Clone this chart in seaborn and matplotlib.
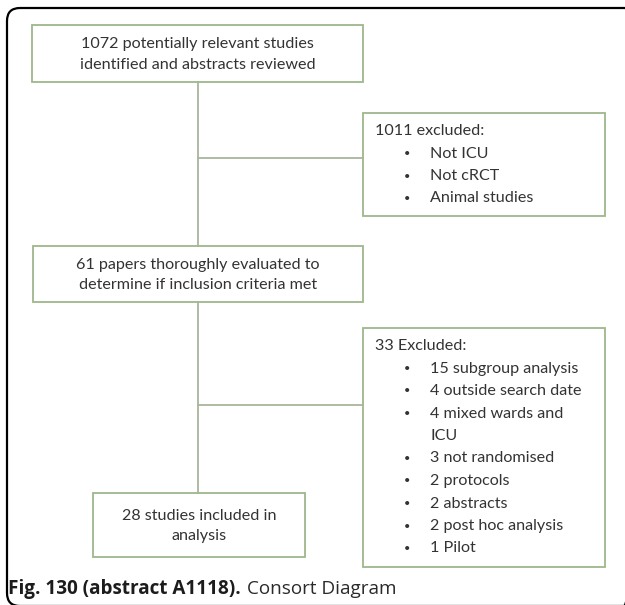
import matplotlib
matplotlib.use("Agg")
import matplotlib.pyplot as plt
import seaborn as sns
from matplotlib.patches import Rectangle, FancyBboxPatch

sns.set_style("white")
plt.rcParams['font.family'] = ['Lato', 'DejaVu Sans']

# flow diagram content
main_boxes = [
    "1072 potentially relevant studies\nidentified and abstracts reviewed",
    "61 papers thoroughly evaluated to\ndetermine if inclusion criteria met",
    "28 studies included in\nanalysis",
]
excl_titles = ["1011 excluded:", "33 Excluded:"]
excl_items = [
    ["Not ICU", "Not cRCT", "Animal studies"],
    ["15 subgroup analysis", "4 outside search date", "4 mixed wards and\nICU",
     "3 not randomised", "2 protocols", "2 abstracts", "2 post hoc analysis", "1 Pilot"],
]
caption_bold = "Fig. 130 (abstract A1118)."
caption_rest = "Consort Diagram"

edge = "#9db68a"
txt = "#333333"
fs = 11.6

fig = plt.figure(figsize=(6.25, 6.05), dpi=100)
ax = fig.add_axes([0, 0, 1, 1])
ax.set_xlim(0, 625)
ax.set_ylim(605, 0)
ax.axis("off")

# outer frame
ax.add_patch(FancyBboxPatch((7, 8), 630, 598, boxstyle="round,pad=0,rounding_size=13",
                            fill=False, ec="black", lw=1.6, clip_on=True))

# main column boxes (left, top, right, bottom)
main_geo = [(32, 25, 363, 82), (33, 246, 363, 302), (93, 493, 305, 557)]
for (x0, y0, x1, y1), label in zip(main_geo, main_boxes):
    ax.add_patch(Rectangle((x0, y0), x1 - x0, y1 - y0, fill=False, ec=edge, lw=1.3))
    ax.text((x0 + x1) / 2, (y0 + y1) / 2 + 1, label, ha="center", va="center",
            fontsize=fs, color=txt, linespacing=1.6)

# connectors
cx = 198
ax.plot([cx, cx], [82, 246], color="#a9b59c", lw=1.3)
ax.plot([cx, cx], [302, 493], color="#a9b59c", lw=1.3)
ax.plot([cx, 363], [158, 158], color="#a9b59c", lw=1.3)
ax.plot([cx, 363], [405, 405], color="#a9b59c", lw=1.3)

# exclusion boxes
excl_geo = [(363, 113, 605, 216), (363, 328, 605, 567)]
step = 22.5
for (x0, y0, x1, y1), title, items in zip(excl_geo, excl_titles, excl_items):
    ax.add_patch(Rectangle((x0, y0), x1 - x0, y1 - y0, fill=False, ec=edge, lw=1.3))
    y = y0 + 18
    ax.text(x0 + 12, y, title, ha="left", va="center", fontsize=fs, color=txt)
    for item in items:
        for k, line in enumerate(item.split("\n")):
            y += step
            if k == 0:
                ax.text(x0 + 44, y, "\u2022", ha="center", va="center", fontsize=8, color=txt)
            ax.text(x0 + 67, y, line, ha="left", va="center", fontsize=fs, color=txt)

# caption
t = ax.text(8, 589, caption_bold, ha="left", va="center", fontsize=13.6,
            fontweight="bold", color="#1c1c1c", family=["Open Sans", "DejaVu Sans"])
fig.canvas.draw()
bb = t.get_window_extent().transformed(ax.transData.inverted())
ax.text(bb.x1 + 6, 589, caption_rest, ha="left", va="center", fontsize=13.6,
        color="#2a2a2a", family=["Open Sans", "DejaVu Sans"])

fig.savefig("out.png", dpi=100)
